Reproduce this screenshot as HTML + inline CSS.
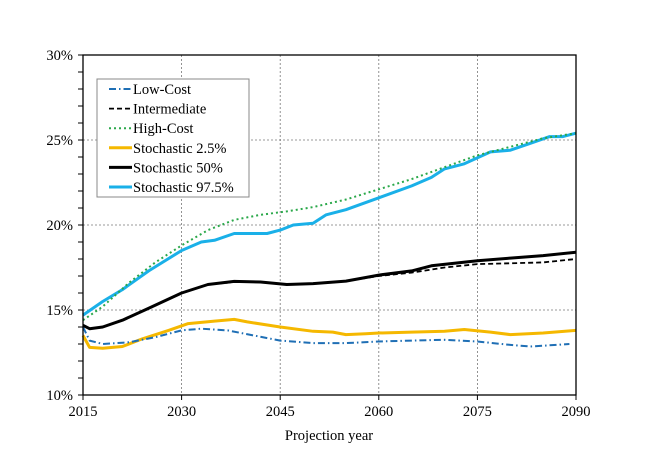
<!DOCTYPE html>
<html><head><meta charset="utf-8"><style>
body{margin:0;background:#fff}
svg text{font-family:"Liberation Serif",serif;font-size:14.5px;fill:#000}
</style></head><body>
<svg id="s" width="648" height="468" xmlns="http://www.w3.org/2000/svg">
<rect x="0" y="0" width="648" height="468" fill="#fff"/>
<g id="grid" stroke="#777" stroke-width="0.8" stroke-dasharray="2,2"></g>
<g id="ticks" stroke="#000" stroke-width="1"></g>
<g id="series" fill="none"></g>
<rect x="83" y="55" width="493" height="340" fill="none" stroke="#000" stroke-width="1.3"/>
<g id="labels"></g>
<text x="329" y="440" text-anchor="middle">Projection year</text>
<rect x="97" y="79" width="152" height="118" fill="#fff" stroke="#888" stroke-width="1"/>
<g id="legend"></g>
</svg>
<script>
var NS="http://www.w3.org/2000/svg";
function X(y){return 83+(y-2015)*493/75}
function Y(v){return 55+(30-v)*17}
function el(p,t,a,txt){var e=document.createElementNS(NS,t);for(var k in a)e.setAttribute(k,a[k]);if(txt)e.textContent=txt;document.getElementById(p).appendChild(e);return e}
[15,20,25].forEach(function(v){el("grid","line",{x1:83,x2:576,y1:Y(v),y2:Y(v)})});
[2030,2045,2060,2075].forEach(function(y){el("grid","line",{x1:X(y),x2:X(y),y1:55,y2:395})});
for(var v=10;v<=30;v++){el("ticks","line",{x1:78,x2:83,y1:Y(v),y2:Y(v)})}
for(var v=10;v<=30;v+=5){el("labels","text",{x:73,y:Y(v)+5,"text-anchor":"end"},v+"%")}
[2015,2030,2045,2060,2075,2090].forEach(function(y){el("ticks","line",{x1:X(y),x2:X(y),y1:395,y2:400});el("labels","text",{x:X(y),y:416,"text-anchor":"middle"},""+y)});
function path(d){var s="";for(var i=0;i<d.length;i+=2){s+=(i?"L":"M")+X(d[i]).toFixed(1)+","+Y(d[i+1]).toFixed(1)}return s}
var S=[
{d:[2015,13.5,2016,12.8,2018,12.75,2021,12.85,2024,13.3,2028,13.8,2031,14.2,2035,14.35,2038,14.45,2040,14.3,2045,14.0,2050,13.75,2053,13.7,2055,13.55,2058,13.6,2060,13.65,2065,13.7,2070,13.75,2073,13.85,2077,13.7,2080,13.55,2085,13.65,2090,13.8],c:"#f5b800",w:3,da:""},
{d:[2015,14.0,2016,13.2,2018,13.0,2022,13.1,2026,13.4,2030,13.8,2033,13.9,2037,13.8,2041,13.5,2045,13.2,2050,13.05,2055,13.05,2060,13.15,2065,13.2,2070,13.25,2075,13.15,2080,12.95,2083,12.85,2087,12.95,2089,13.0],c:"#1f6fb5",w:2,da:"7,3,1.5,3"},
{d:[2015,14.7,2018,15.5,2021,16.2,2025,17.3,2030,18.5,2033,19.0,2035,19.1,2038,19.5,2043,19.5,2045,19.7,2047,20.0,2050,20.1,2052,20.6,2055,20.9,2060,21.6,2065,22.3,2068,22.8,2070,23.3,2073,23.6,2077,24.3,2080,24.4,2083,24.8,2086,25.2,2088,25.2,2090,25.4],c:"#1ab0e8",w:3,da:""},
{d:[2015,14.4,2018,15.2,2022,16.6,2026,17.8,2030,18.8,2034,19.7,2038,20.3,2042,20.6,2046,20.8,2050,21.05,2055,21.5,2060,22.1,2065,22.7,2070,23.4,2075,24.1,2080,24.6,2085,25.1,2090,25.4],c:"#2aa84a",w:2,da:"2,3"},
{d:[2015,14.1,2016,13.9,2018,14.0,2021,14.4,2025,15.1,2030,16.0,2034,16.5,2038,16.68,2042,16.65,2046,16.5,2050,16.55,2055,16.7,2060,17.05,2065,17.3,2068,17.6,2075,17.9,2080,18.05,2085,18.2,2090,18.4],c:"#000",w:3,da:""},
{d:[2015,14.1,2016,13.9,2018,14.0,2021,14.4,2025,15.1,2030,16.0,2034,16.5,2038,16.65,2042,16.65,2046,16.5,2050,16.55,2055,16.7,2060,17.0,2065,17.2,2070,17.5,2075,17.7,2080,17.75,2085,17.8,2090,18.0],c:"#000",w:1.8,da:"5,3"}
];
S.forEach(function(s){var a={d:path(s.d),stroke:s.c,"stroke-width":s.w,"stroke-linejoin":"round"};if(s.da)a["stroke-dasharray"]=s.da;el("series","path",a)});
var L=[["Low-Cost","#1f6fb5",2,"7,3,1.5,3"],["Intermediate","#000",1.8,"5,3"],["High-Cost","#2aa84a",2,"2,3"],["Stochastic 2.5%","#f5b800",3,""],["Stochastic 50%","#000",3,""],["Stochastic 97.5%","#1ab0e8",3,""]];
L.forEach(function(l,i){var y=89+i*19.6;var a={x1:109,x2:132,y1:y,y2:y,stroke:l[1],"stroke-width":l[2]};if(l[3])a["stroke-dasharray"]=l[3];el("legend","line",a);el("legend","text",{x:133,y:y+5},l[0])});
</script>
</body></html>
